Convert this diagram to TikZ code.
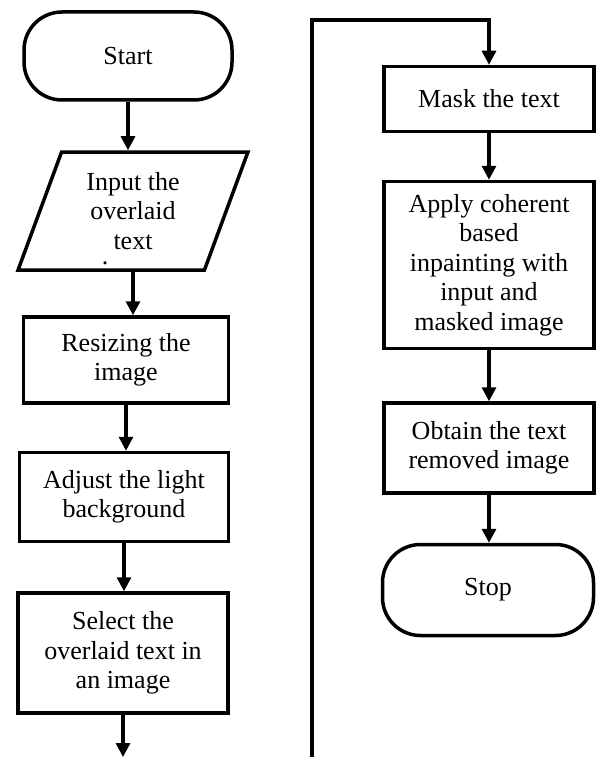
\documentclass[tikz,border=0pt]{standalone}
\usepackage{fontspec}
\setmainfont{Liberation Serif}
\usetikzlibrary{arrows.meta,shapes.geometric}

\begin{document}
\begin{tikzpicture}[x=1pt,y=-1pt,
  every node/.style={font=\fontsize{26}{29.5}\selectfont, align=center},
  box/.style={draw, line width=3.5pt, fill=white, inner sep=2pt},
  term/.style={box, rounded corners=38pt},
  io/.style={box, trapezium, trapezium left angle=70, trapezium right angle=110,
    trapezium stretches=true},
  arr/.style={line width=3.2pt, -{Triangle[length=14pt,width=14pt]}}]
\useasboundingbox (0,0) rectangle (598,757);

% left column
\node[term, minimum width=208pt, minimum height=88pt] (start) at (128,56) {Start};
\node[io, minimum width=230pt, minimum height=118pt] (input) at (133,211) {Input the\\overlaid\\text};
\node[anchor=base, inner sep=0pt] (indot) at (105,264) {.};
\node[box, minimum width=205pt, minimum height=86pt] (resize) at (126,360) {Resizing the\\image};
\node[box, minimum width=209pt, minimum height=89pt] (light) at (124,497) {Adjust the light\\background};
\node[box, minimum width=210pt, minimum height=120pt] (select) at (123,653) {Select the\\overlaid text in\\an image};
\coordinate (leftend) at (130,757);

% right column
\node[box, minimum width=210pt, minimum height=65pt] (mask) at (489,99) {Mask the text};
\node[box, minimum width=210pt, minimum height=167pt] (apply) at (489,265) {Apply coherent\\based\\inpainting with\\input and\\masked image};
\node[box, minimum width=210pt, minimum height=90pt] (obtain) at (489,448) {Obtain the text\\removed image};
\node[term, minimum width=211pt, minimum height=91pt] (stop) at (488,590) {Stop};
\coordinate (rightend) at (312,757);
\coordinate (turn) at (312,20);

\foreach \a/\b in {start/input,input/resize,resize/light,light/select,mask/apply,apply/obtain,obtain/stop}
  \draw[arr] (\a.south) -- (\a.south |- \b.north);
\draw[arr] (select.south) -- (select.south |- leftend);
\draw[arr] (rightend) -- (turn) -| (mask.north);
\end{tikzpicture}
\end{document}
